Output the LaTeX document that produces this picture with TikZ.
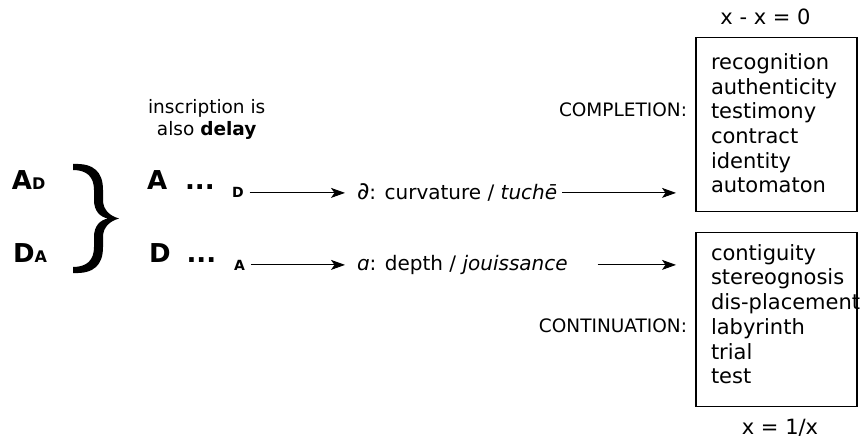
\documentclass[tikz,border=0pt]{standalone}
\usepackage{fontspec}
\setmainfont{DejaVu Sans}
\usetikzlibrary{arrows.meta}
\begin{document}
\begin{tikzpicture}[x=1pt,y=-1pt,
  every node/.style={inner sep=0pt, outer sep=0pt},
  boxtxt/.style={font=\fontsize{21}{24.7}\selectfont, align=left, anchor=west},
  capl/.style={font=\fontsize{18.5}{20}\selectfont, anchor=base east},
  big/.style={font=\fontsize{26}{26}\selectfont\bfseries, anchor=base west},
  subl/.style={font=\fontsize{14}{14}\selectfont\bfseries, anchor=base west},
  lab/.style={font=\fontsize{20}{22}\selectfont, anchor=base west},
  eqn/.style={font=\fontsize{21}{21}\selectfont, anchor=base},
  frame/.style={draw, line width=1.3pt, minimum width=161pt, minimum height=174.4pt},
  arr/.style={-{Stealth[length=14pt,width=10pt,inset=3.5pt]}, line width=1pt},
]
\useasboundingbox (0,0) rectangle (864,438);

% boxes
\node[frame] (box1) at (776.5,124.5) {};
\node[frame] (box2) at (776.5,319.5) {};
\node[boxtxt] (list1) at (711,123.3) {recognition\\authenticity\\testimony\\contract\\identity\\automaton};
\node[boxtxt] (list2) at (711,314.2) {contiguity\\stereognosis\\dis-placement\\labyrinth\\trial\\test};

\node[capl] (comp) at (687,116.5) {COMPLETION:};
\node[capl] (cont) at (687,332.5) {CONTINUATION:};

\node[eqn] (eq1) at (765.5,25) {x - x = 0};
\node[eqn] (eq2) at (780,434) {x = 1/x};

% left part
\node[font=\fontsize{18.5}{22}\selectfont, align=center] (insc) at (206.7,119) {inscription is\\also \textbf{delay}};

\node[big] (ad) at (12,190) {A{\fontsize{16}{16}\selectfont D}};
\node[big] (da) at (13,262) {D{\fontsize{16}{16}\selectfont A}};

% curly brace
\fill (73,164) .. controls (94,163) and (103,172) .. (103,190) -- (103,200)
  .. controls (103,210) and (110,216) .. (119,218.5)
  .. controls (110,221) and (103,227) .. (103,237) -- (103,247)
  .. controls (103,265) and (94,274) .. (73,273) -- (73,267)
  .. controls (87,267) and (94,260) .. (94,247) -- (94,237)
  .. controls (94,226) and (100,220) .. (108,218.5)
  .. controls (100,217) and (94,211) .. (94,200) -- (94,190)
  .. controls (94,177) and (87,170) .. (73,170) -- cycle;

\node[big] (rowa) at (147,190) {A\hspace{18pt}...};
\node[big] (rowd) at (149,262) {D\hspace{16pt}...};

\node[subl] (subd) at (232,198) {D};
\node[subl] (suba) at (234,270) {A};

\node[lab] (l1) at (357,199.5) {{\fontsize{24}{22}\selectfont\itshape ∂}: curvature / \textit{tuchē}};
\node[lab] (l2) at (357,270.5) {\textit{ɑ}: depth / \textit{jouissance}};

% arrows
\draw[arr, shorten <=6pt, shorten >=12pt] (subd.east) -- (subd.east -| l1.west);
\draw[arr, shorten <=5pt, shorten >=20pt] (l1.east |- subd.east) -- (box1.west |- subd.east);
\draw[arr, shorten <=6pt, shorten >=12pt] (suba.east) -- (suba.east -| l2.west);
\draw[arr, shorten <=30pt, shorten >=20pt] (l2.east |- suba.east) -- (box2.west |- suba.east);
\end{tikzpicture}
\end{document}
